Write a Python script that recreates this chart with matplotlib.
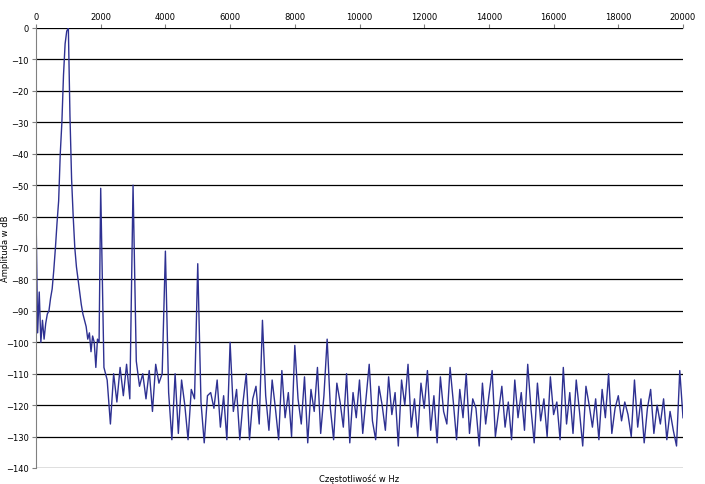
import numpy as np
import matplotlib
matplotlib.use("Agg")
import matplotlib.pyplot as plt

# low-frequency part, 50 Hz step (0..1950)
freq_low = [i * 50 for i in range(40)]
amp_low = [-58, -97, -84, -100, -93, -99, -94, -91, -90, -86,
           -83, -77, -70, -62, -55, -40, -30, -15, -5, -1,
           0, -28, -48, -60, -70, -76, -80, -84, -88, -91,
           -93, -95, -99, -97, -103, -98, -100, -108, -99, -100]
# upper part, 100 Hz step (2000..20000)
freq_high = [2000 + i * 100 for i in range(181)]
amp_high = [
    -51, -108, -112, -126, -110, -119, -108, -117, -107, -118,   # 2000
    -50, -106, -114, -110, -118, -109, -122, -107, -113, -110,   # 3000
    -71, -116, -131, -110, -129, -112, -120, -131, -115, -118,   # 4000
    -75, -119, -132, -117, -116, -121, -112, -127, -117, -131,   # 5000
    -100, -122, -115, -131, -119, -110, -131, -118, -114, -126,  # 6000
    -93, -117, -128, -112, -121, -131, -109, -124, -116, -130,   # 7000
    -101, -118, -126, -111, -132, -115, -122, -108, -129, -117,  # 8000
    -99, -121, -131, -113, -119, -127, -110, -132, -116, -124,   # 9000
    -112, -129, -118, -107, -125, -131, -114, -120, -128, -111,  # 10000
    -123, -116, -133, -112, -120, -107, -127, -118, -130, -113,  # 11000
    -121, -109, -128, -117, -132, -111, -122, -126, -108, -119,  # 12000
    -131, -115, -124, -110, -129, -118, -121, -133, -113, -126,  # 13000
    -117, -109, -130, -122, -114, -127, -119, -131, -112, -124,  # 14000
    -116, -128, -107, -121, -132, -113, -125, -118, -130, -111,  # 15000
    -123, -119, -131, -108, -126, -116, -129, -112, -122, -133,  # 16000
    -114, -120, -127, -118, -131, -115, -124, -110, -129, -121,  # 17000
    -117, -125, -119, -123, -130, -112, -127, -118, -132, -121,  # 18000
    -115, -129, -120, -126, -118, -131, -122, -128, -133, -109,  # 19000
    -124]

freq = freq_low + freq_high
amp = amp_low + amp_high

fig = plt.figure(figsize=(7.05, 4.85), dpi=100)
ax = fig.add_axes([36/705, 1 - 469/485, (683-36)/705, (469-29)/485])
ax.plot(freq, amp, color="#2e3192", lw=1.0)
ax.set_xlim(0, 20000)
ax.set_ylim(-140, 0)
ax.set_xticks(range(0, 20001, 2000))
ax.set_yticks(range(-140, 1, 10))
ax.xaxis.tick_top()
ax.yaxis.grid(True, color="black", lw=0.9)
ax.set_axisbelow(True)
for s in ["top", "right"]:
    ax.spines[s].set_visible(False)
ax.spines["left"].set_color("#808080")
ax.spines["bottom"].set_visible(False)
ax.tick_params(labelsize=6, length=3, color="#808080", pad=2)
ax.set_xlabel("Częstotliwość w Hz", fontsize=6)
ax.set_ylabel("Amplituda w dB", fontsize=6)
ax.yaxis.set_label_coords(-0.04, 0.5)
fig.savefig("out.png", dpi=100)
